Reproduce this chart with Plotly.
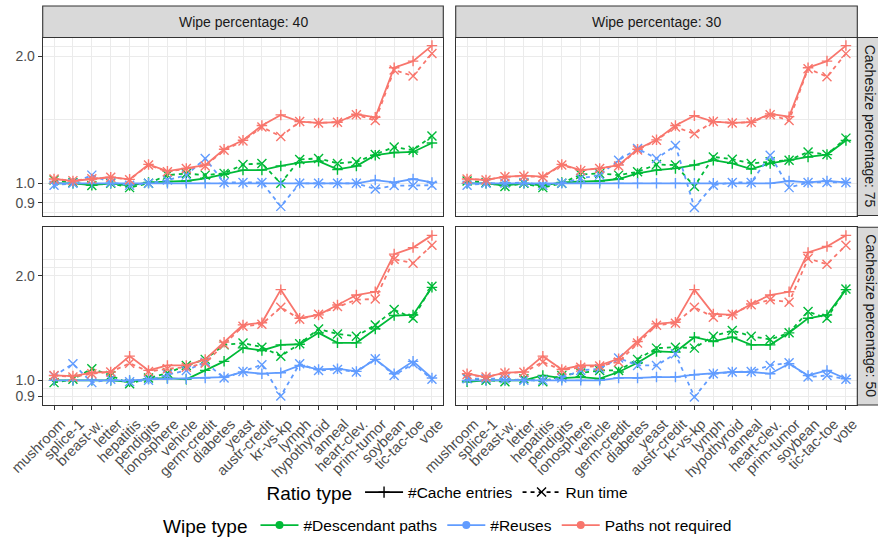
import math
import plotly.graph_objects as go

# ---------------------------------------------------------------- data
categories = ["mushroom", "splice-1", "breast-w.", "letter", "hepatitis", "pendigits",
              "ionosphere", "vehicle", "germ-credit", "diabetes", "yeast", "austr-credit",
              "kr-vs-kp", "lymph", "hypothyroid", "anneal", "heart-clev.", "prim-tumor",
              "soybean", "tic-tac-toe", "vote"]

wipe_labels = ["Wipe percentage: 40", "Wipe percentage: 30"]
cache_labels = ["Cachesize percentage: 75", "Cachesize percentage: 50"]
y_breaks = [0.9, 1.0, 2.0]
y_break_labels = ["0.9", "1.0", "2.0"]

# Wipe 40 %, cache size 75 %
desc_cache_w40_c75 = [1.0, 1.0, 0.99, 1.0, 0.988, 1.005, 1.01, 1.013, 1.028, 1.05, 1.075, 1.075, 1.10, 1.12, 1.129, 1.079, 1.099, 1.166, 1.183, 1.187, 1.246]
desc_run_w40_c75 = [1.018, 1.005, 0.988, 1.0, 0.977, 1.0, 1.046, 1.055, 1.046, 1.056, 1.108, 1.115, 1.0, 1.139, 1.146, 1.115, 1.125, 1.17, 1.22, 1.198, 1.295]
reuse_cache_w40_c75 = [1.0, 1.0, 1.0, 1.0, 1.0, 1.0, 1.0, 1.0, 1.0, 1.0, 1.0, 1.0, 1.0, 1.0, 1.0, 1.0, 1.0, 1.018, 1.005, 1.024, 1.005]
reuse_run_w40_c75 = [0.99, 1.0, 1.046, 1.005, 0.99, 1.0, 1.018, 1.046, 1.145, 1.005, 1.005, 1.005, 0.882, 1.0, 1.0, 1.0, 1.0, 0.97, 0.988, 0.988, 0.99]
paths_cache_w40_c75 = [1.024, 1.013, 1.024, 1.034, 1.022, 1.109, 1.069, 1.085, 1.105, 1.205, 1.265, 1.371, 1.453, 1.401, 1.391, 1.396, 1.458, 1.434, 1.880, 1.949, 2.121]
paths_run_w40_c75 = [1.024, 1.015, 1.026, 1.034, 1.020, 1.105, 1.066, 1.085, 1.100, 1.198, 1.260, 1.360, 1.292, 1.401, 1.391, 1.396, 1.455, 1.409, 1.856, 1.797, 2.031]

# Wipe 30 %, cache size 75 %
desc_cache_w30_c75 = [1.0, 1.0, 0.988, 1.0, 0.988, 1.005, 1.01, 1.013, 1.024, 1.056, 1.075, 1.085, 1.105, 1.135, 1.115, 1.081, 1.115, 1.135, 1.155, 1.17, 1.264]
desc_run_w30_c75 = [1.013, 1.005, 0.983, 1.0, 0.977, 1.0, 1.05, 1.056, 1.046, 1.065, 1.108, 1.105, 0.983, 1.155, 1.141, 1.115, 1.125, 1.135, 1.187, 1.17, 1.28]
reuse_cache_w30_c75 = [1.0, 1.0, 1.0, 1.0, 1.0, 1.0, 1.0, 1.0, 1.0, 1.0, 1.0, 1.0, 1.0, 1.0, 1.0, 1.0, 1.0, 1.013, 1.005, 1.013, 1.005]
reuse_run_w30_c75 = [0.99, 1.0, 1.0, 1.005, 0.99, 1.0, 1.028, 1.046, 1.135, 1.209, 1.145, 1.23, 0.877, 0.99, 1.005, 1.005, 1.166, 0.977, 1.005, 1.005, 1.005]
paths_cache_w30_c75 = [1.024, 1.019, 1.037, 1.043, 1.037, 1.109, 1.075, 1.085, 1.105, 1.205, 1.268, 1.371, 1.447, 1.401, 1.391, 1.396, 1.461, 1.439, 1.880, 1.949, 2.121]
paths_run_w30_c75 = [1.024, 1.019, 1.037, 1.040, 1.035, 1.105, 1.072, 1.085, 1.100, 1.200, 1.265, 1.360, 1.311, 1.401, 1.391, 1.396, 1.455, 1.409, 1.870, 1.790, 2.030]

# Wipe 40 %, cache size 50 %
desc_cache_w40_c50 = [1.0, 1.0, 1.0, 1.0, 0.99, 1.011, 1.015, 1.007, 1.068, 1.134, 1.24, 1.219, 1.265, 1.27, 1.37, 1.282, 1.282, 1.406, 1.536, 1.542, 1.852]
desc_run_w40_c50 = [0.985, 1.007, 1.08, 1.033, 0.978, 1.015, 1.05, 1.104, 1.149, 1.265, 1.28, 1.246, 1.174, 1.274, 1.406, 1.36, 1.34, 1.444, 1.598, 1.509, 1.864]
reuse_cache_w40_c50 = [1.0, 1.0, 1.0, 1.0, 1.0, 1.007, 1.011, 1.011, 1.016, 1.022, 1.057, 1.045, 1.052, 1.104, 1.075, 1.08, 1.061, 1.149, 1.045, 1.134, 1.016]
reuse_run_w40_c50 = [1.029, 1.116, 0.985, 1.007, 0.99, 1.0, 1.038, 1.068, 1.128, 1.015, 1.061, 1.109, 0.902, 1.116, 1.068, 1.075, 1.057, 1.154, 1.033, 1.116, 1.007]
paths_cache_w40_c50 = [1.033, 1.029, 1.052, 1.057, 1.174, 1.068, 1.104, 1.104, 1.149, 1.288, 1.444, 1.464, 1.824, 1.509, 1.543, 1.648, 1.760, 1.798, 2.308, 2.410, 2.613]
paths_run_w40_c50 = [1.033, 1.022, 1.045, 1.057, 1.12, 1.06, 1.08, 1.09, 1.12, 1.27, 1.43, 1.45, 1.623, 1.50, 1.55, 1.63, 1.706, 1.714, 2.232, 2.174, 2.447]

# Wipe 30 %, cache size 50 %
desc_cache_w30_c50 = [0.99, 1.0, 1.0, 1.0, 1.033, 1.015, 1.022, 1.011, 1.057, 1.124, 1.211, 1.206, 1.331, 1.294, 1.331, 1.265, 1.265, 1.37, 1.509, 1.542, 1.824]
desc_run_w30_c50 = [1.015, 1.0, 0.99, 1.011, 0.99, 1.033, 1.05, 1.068, 1.068, 1.149, 1.238, 1.246, 1.238, 1.34, 1.391, 1.34, 1.311, 1.37, 1.577, 1.509, 1.831]
reuse_cache_w30_c50 = [1.0, 1.0, 1.0, 1.0, 1.0, 1.0, 1.0, 1.0, 1.016, 1.016, 1.022, 1.022, 1.038, 1.045, 1.057, 1.057, 1.045, 1.116, 1.033, 1.068, 1.011]
reuse_run_w30_c50 = [1.011, 1.011, 1.011, 1.0, 1.0, 1.016, 1.068, 1.08, 1.159, 1.104, 1.104, 1.192, 0.896, 1.045, 1.057, 1.061, 1.104, 1.124, 1.022, 1.033, 1.007]
paths_cache_w30_c50 = [1.045, 1.022, 1.052, 1.057, 1.174, 1.075, 1.104, 1.104, 1.154, 1.294, 1.454, 1.47, 1.824, 1.553, 1.543, 1.659, 1.76, 1.798, 2.333, 2.428, 2.613]
paths_run_w30_c50 = [1.04, 1.022, 1.05, 1.055, 1.13, 1.07, 1.09, 1.10, 1.13, 1.28, 1.44, 1.46, 1.623, 1.52, 1.55, 1.65, 1.706, 1.677, 2.242, 2.158, 2.447]

# panel layout: rows = cache size (75, 50), cols = wipe percentage (40, 30)
panels = {
    (0, 0): {"desc": (desc_cache_w40_c75, desc_run_w40_c75),
             "reuse": (reuse_cache_w40_c75, reuse_run_w40_c75),
             "paths": (paths_cache_w40_c75, paths_run_w40_c75)},
    (0, 1): {"desc": (desc_cache_w30_c75, desc_run_w30_c75),
             "reuse": (reuse_cache_w30_c75, reuse_run_w30_c75),
             "paths": (paths_cache_w30_c75, paths_run_w30_c75)},
    (1, 0): {"desc": (desc_cache_w40_c50, desc_run_w40_c50),
             "reuse": (reuse_cache_w40_c50, reuse_run_w40_c50),
             "paths": (paths_cache_w40_c50, paths_run_w40_c50)},
    (1, 1): {"desc": (desc_cache_w30_c50, desc_run_w30_c50),
             "reuse": (reuse_cache_w30_c50, reuse_run_w30_c50),
             "paths": (paths_cache_w30_c50, paths_run_w30_c50)},
}

wipe_types = [("desc", "#Descendant paths", "#00BA38"),
              ("reuse", "#Reuses", "#619CFF"),
              ("paths", "Paths not required", "#F8766D")]

# ---------------------------------------------------------------- styling
W, H = 878, 543
FONT = "Liberation Sans, Arial, Helvetica, sans-serif"
GRID = "#EBEBEB"
BORDER = "#333333"
STRIP_FILL = "#D9D9D9"
LINE_W = 1.8
DASH = "4px,4px"

col_px = [(42.7, 443.3), (455.7, 857.3)]
row_px = [(37.5, 215.5), (227.3, 405.0)]
strip_top = 6.0
strip_right = 888.0


def fx(p):
    return p / W


def fy(p):
    return 1 - p / H


# minor breaks on the log scale: midpoints between breaks, with one extra
# break step added beyond each end
lb = [math.log(b) for b in y_breaks]
step = lb[1] - lb[0]
ext = [lb[0] - step] + lb + [lb[-1] + step]
minor_ln = [(a + b) / 2 for a, b in zip(ext[:-1], ext[1:])] + [ext[0], ext[-1]]
minor_vals = sorted(math.exp(v) for v in minor_ln)


def row_range(r):
    vals = []
    for c in range(2):
        for key in panels[(r, c)]:
            for series in panels[(r, c)][key]:
                vals.extend(series)
    lo, hi = math.log10(min(vals)), math.log10(max(vals))
    pad = 0.05 * (hi - lo)
    return [lo - pad, hi + pad]


fig = go.Figure()

for (r, c), pdata in panels.items():
    k = r * 2 + c + 1
    xa = "x" if k == 1 else f"x{k}"
    ya = "y" if k == 1 else f"y{k}"
    for key, name, color in wipe_types:
        cache_vals, run_vals = pdata[key]
        fig.add_trace(go.Scatter(
            x=categories, y=run_vals, xaxis=xa, yaxis=ya, mode="lines+markers",
            line=dict(color=color, width=LINE_W, dash=DASH),
            marker=dict(symbol="x-thin", size=9, line=dict(color=color, width=1.4)),
            showlegend=False, hoverinfo="skip"))
        fig.add_trace(go.Scatter(
            x=categories, y=cache_vals, xaxis=xa, yaxis=ya, mode="lines+markers",
            line=dict(color=color, width=LINE_W),
            marker=dict(symbol="cross-thin", size=7.5, line=dict(color=color, width=1.4)),
            showlegend=False, hoverinfo="skip"))

    bottom = r == 1
    left = c == 0
    fig.layout[f"xaxis{'' if k == 1 else k}"] = dict(
        domain=[fx(col_px[c][0]), fx(col_px[c][1])], anchor=ya, automargin=False,
        type="category", categoryorder="array", categoryarray=categories,
        range=[-0.6, len(categories) - 0.4],
        showgrid=True, gridcolor=GRID, gridwidth=1.4, zeroline=False,
        showline=True, mirror=True, linecolor=BORDER, linewidth=1.1,
        ticks="outside" if bottom else "", ticklen=4, tickcolor=BORDER, tickwidth=1,
        showticklabels=bottom, tickangle=-45, ticklabelshift=7,
        tickfont=dict(size=14.5, color="#4D4D4D", family=FONT))
    fig.layout[f"yaxis{'' if k == 1 else k}"] = dict(
        domain=[fy(row_px[r][1]), fy(row_px[r][0])], anchor=xa, automargin=False,
        type="log", range=row_range(r),
        tickmode="array", tickvals=y_breaks, ticktext=y_break_labels,
        showgrid=True, gridcolor=GRID, gridwidth=1.4, zeroline=False,
        minor=dict(tickmode="array",
                   tickvals=[v for v in minor_vals if all(abs(v - b) > 1e-6 for b in y_breaks)],
                   showgrid=True, gridcolor=GRID, gridwidth=0.8, ticks=""),
        showline=True, mirror=True, linecolor=BORDER, linewidth=1.1,
        ticks="outside" if left else "", ticklen=4, tickcolor=BORDER, tickwidth=1,
        showticklabels=left,
        tickfont=dict(size=14, color="#4D4D4D", family=FONT))

# facet strips
shapes, annotations = [], []
for c, label in enumerate(wipe_labels):
    x0, x1 = col_px[c]
    shapes.append(dict(type="rect", xref="paper", yref="paper",
                       x0=fx(x0), x1=fx(x1), y0=fy(row_px[0][0]), y1=fy(strip_top),
                       fillcolor=STRIP_FILL, line=dict(color=BORDER, width=1.1)))
    annotations.append(dict(text=label, xref="paper", yref="paper",
                            x=fx((x0 + x1) / 2), y=fy((strip_top + row_px[0][0]) / 2),
                            showarrow=False, xanchor="center", yanchor="middle",
                            font=dict(size=14, color="#1A1A1A", family=FONT)))
for r, label in enumerate(cache_labels):
    y0, y1 = row_px[r]
    shapes.append(dict(type="rect", xref="paper", yref="paper",
                       x0=fx(col_px[1][1]), x1=fx(strip_right), y0=fy(y1), y1=fy(y0),
                       fillcolor=STRIP_FILL, line=dict(color=BORDER, width=1.1)))
    annotations.append(dict(text=label, xref="paper", yref="paper",
                            x=fx(870.8), y=fy((y0 + y1) / 2), textangle=90,
                            showarrow=False, xanchor="center", yanchor="middle",
                            font=dict(size=14, color="#1A1A1A", family=FONT)))

# legend entries
fig.add_trace(go.Scatter(x=[None], y=[None], mode="lines+markers", name="#Cache entries",
                         line=dict(color="black", width=LINE_W),
                         marker=dict(symbol="cross-thin", size=8, line=dict(color="black", width=1.4)),
                         legend="legend"))
fig.add_trace(go.Scatter(x=[None], y=[None], mode="lines+markers", name="Run time",
                         line=dict(color="black", width=LINE_W, dash=DASH),
                         marker=dict(symbol="x-thin", size=9, line=dict(color="black", width=1.4)),
                         legend="legend"))
for key, name, color in wipe_types:
    fig.add_trace(go.Scatter(x=[None], y=[None], mode="lines+markers", name=name,
                             line=dict(color=color, width=LINE_W),
                             marker=dict(symbol="circle", size=8, color=color),
                             legend="legend2"))

fig.update_layout(
    width=W, height=H, margin=dict(l=0, r=0, t=0, b=0, autoexpand=False),
    paper_bgcolor="white", plot_bgcolor="white",
    font=dict(family=FONT, color="black"),
    shapes=shapes, annotations=annotations,
    legend=dict(title=dict(text="Ratio type", side="left", font=dict(size=19, family=FONT)),
                orientation="h", x=fx(449), xanchor="center", y=fy(493), yanchor="middle",
                font=dict(size=15.5, family=FONT), bgcolor="rgba(0,0,0,0)", itemwidth=38),
    legend2=dict(title=dict(text="Wipe type", side="left", font=dict(size=19, family=FONT)),
                 orientation="h", x=fx(449), xanchor="center", y=fy(526), yanchor="middle",
                 font=dict(size=15.5, family=FONT), bgcolor="rgba(0,0,0,0)", itemwidth=38),
)

fig.write_html("out.html")
